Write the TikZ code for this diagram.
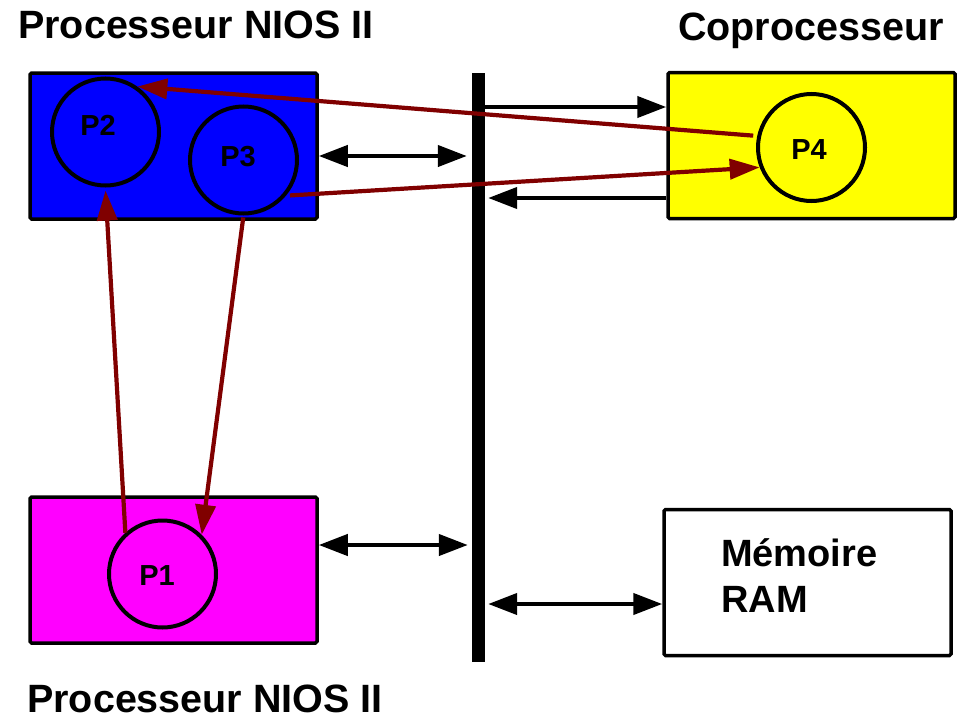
\documentclass[tikz,border=0pt]{standalone}
\usepackage{fontspec}
\setmainfont{Liberation Sans}
\usetikzlibrary{arrows.meta,calc}
\definecolor{darkred}{HTML}{800000}
\definecolor{pblue}{HTML}{0000FF}
\definecolor{pyellow}{HTML}{FFFF00}
\definecolor{pmagenta}{HTML}{FF00FF}
\begin{document}
\begin{tikzpicture}[x=1pt,y=-1pt,
  box/.style={draw=black,line width=3.5pt,rounded corners=1.5pt,minimum width=287pt,minimum height=146pt,inner sep=0pt},
  proc/.style={circle,draw=black,line width=4pt,minimum size=107pt,inner sep=0pt},
  plabel/.style={font=\fontsize{29}{32}\selectfont\bfseries,inner sep=0pt},
  title/.style={font=\fontsize{39.5}{44}\selectfont\bfseries,inner sep=0pt,anchor=base west},
  ramtext/.style={font=\fontsize{38}{46}\selectfont\bfseries,inner sep=0pt,anchor=base west},
  busarrow/.style={line width=4.2pt,black},
  redarrow/.style={line width=4.2pt,darkred,-{Triangle[length=30pt,width=20pt]}}
]
\useasboundingbox (0,0) rectangle (961,720);

% titles
\node[title] (t1) at (18,38) {Processeur NIOS II};
\node[title] (t2) at (678,40) {Coprocesseur};
\node[title] (t3) at (27,712) {Processeur NIOS II};

% boxes
\node[box,fill=pblue] (blue) at (173.5,146) {};
\node[box,fill=pyellow] (yel) at (811.5,145.5) {};
\node[box,fill=pmagenta] (mag) at (173.5,570) {};
\node[box,fill=white] (ram) at (807.5,582.5) {};
\node[ramtext] (mem) at (721,566) {Mémoire};
\node[ramtext] (rmt) at (721,612) {RAM};

% bus
\node[fill=black,inner sep=0pt,minimum width=13pt,minimum height=589pt] (bus) at (478.5,367.5) {};

% processes
\node[proc] (P2) at (105.5,132) {};
\node[proc] (P3) at (243.5,160) {};
\node[proc] (P4) at (811.5,147.5) {};
\node[proc] (P1) at (162.5,574) {};
\node[plabel] (l2) at (98,125) {P2};
\node[plabel] (l3) at (238,157) {P3};
\node[plabel] (l4) at (809,150) {P4};
\node[plabel] (l1) at (157,576) {P1};

% bus connectors
\coordinate (a1) at ([yshift=-10pt]blue.east);
\draw[busarrow,{Triangle[length=29pt,width=21pt]}-{Triangle[length=29pt,width=21pt]},shorten >=5pt] (a1) -- (a1 -| bus.west);
\coordinate (a2) at ([yshift=25pt]mag.east);
\draw[busarrow,{Triangle[length=29pt,width=21pt]}-{Triangle[length=29pt,width=21pt]},shorten >=4pt] (a2) -- (a2 -| bus.west);
\coordinate (a3) at ([yshift=38.5pt]yel.west);
\draw[busarrow,-{Triangle[length=29pt,width=21pt]}] (a3 -| bus.east) -- (a3);
\coordinate (a4) at ([yshift=-52.5pt]yel.west);
\draw[busarrow,-{Triangle[length=29pt,width=21pt]},shorten >=3pt] (a4) -- (a4 -| bus.east);
\coordinate (a5) at ([yshift=-21.5pt]ram.west);
\draw[busarrow,{Triangle[length=29pt,width=21pt]}-{Triangle[length=29pt,width=21pt]},shorten <=3pt] (a5 -| bus.east) -- (a5);

% process connectors
\draw[redarrow,shorten <=4pt] (P4.168) -- (P2.55);
\draw[redarrow,shorten <=4pt] (P3.-40) -- (P4.201);
\draw[redarrow] (P1.132) -- ([yshift=-3pt]P2.south);
\draw[redarrow,shorten <=2pt] (P3.south) -- (P1.45);
\end{tikzpicture}
\end{document}
